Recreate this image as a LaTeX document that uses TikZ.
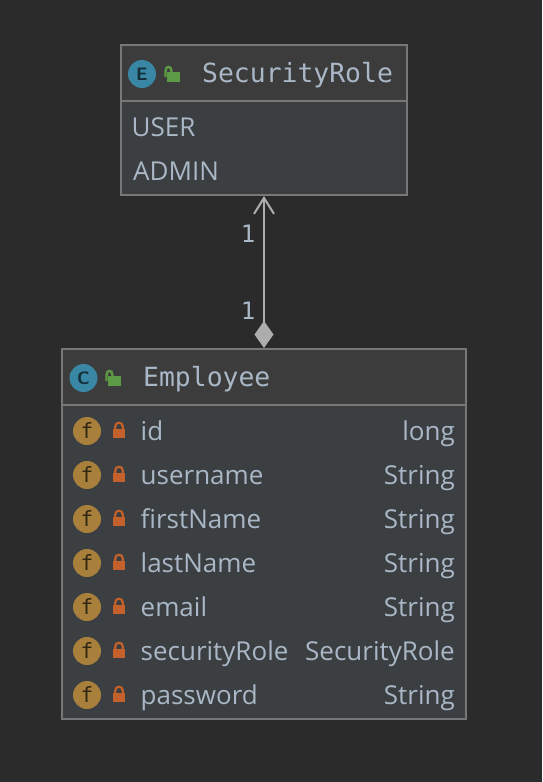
\documentclass[tikz,border=0pt]{standalone}
\usepackage{fontspec}
\setmainfont{Open Sans}
\newfontfamily\titlefont{DejaVu Sans Mono}
\usetikzlibrary{arrows.meta}
\definecolor{canvascol}{HTML}{2B2B2B}
\definecolor{headcol}{HTML}{3C3C3C}
\definecolor{bodycol}{HTML}{3C3F41}
\definecolor{edgecol}{HTML}{777777}
\definecolor{textcol}{HTML}{A9B7C6}
\definecolor{linkcol}{HTML}{ADADAD}
\definecolor{bluecol}{HTML}{3A87A5}
\definecolor{fieldcol}{HTML}{A8803C}
\definecolor{shutcol}{HTML}{C4602B}
\definecolor{opencol}{HTML}{5C9A46}
\tikzset{
    box/.style={draw=edgecol, line width=2pt, fill=bodycol, inner sep=0pt},
    head/.style={box, fill=headcol, minimum height=56pt},
    title/.style={text=textcol, anchor=base west, inner sep=0pt, font=\titlefont\fontsize{26.4}{30}\selectfont},
    item/.style={text=textcol, anchor=base west, inner sep=0pt, font=\fontsize{26}{30}\selectfont},
    kind/.style={item, anchor=base east},
    one/.style={text=textcol, inner sep=0pt, font=\titlefont\fontsize{24}{28}\selectfont},
    typeicon/.style={circle, fill=bluecol, minimum size=28pt, inner sep=0pt, text=bluecol!35!black, font=\sffamily\bfseries\fontsize{18}{20}\selectfont},
    fieldicon/.style={circle, fill=fieldcol, minimum size=28pt, inner sep=0pt, text=fieldcol!30!black, font=\titlefont\fontsize{21}{24}\selectfont},
    link/.style={draw=linkcol, line width=2pt, {Diamond[length=27pt,width=19pt,fill=linkcol]}-{Straight Barb[length=16pt,width=20pt]}},
    openlock/.pic={
        \fill[opencol] (0,0) rectangle (13,-10);
        \draw[opencol, line width=2.4pt] (-1.5,-5) -- (-1.5,-11) .. controls (-1.5,-16.5) and (4.5,-16.5) .. (4.5,-11) -- (4.5,-9);
    },
    shutlock/.pic={
        \fill[shutcol] (0,0) rectangle (12,-9);
        \draw[shutcol, line width=2.2pt] (2.2,-8) -- (2.2,-11.5) .. controls (2.2,-16.5) and (9.8,-16.5) .. (9.8,-11.5) -- (9.8,-8);
    }
}
\begin{document}
\begin{tikzpicture}[x=1pt,y=-1pt]
    \useasboundingbox[fill=canvascol] (0,0) rectangle (542,782);

    %enum box
    \node[box, minimum width=286pt, minimum height=150pt] (role) at (264,120) {};
    \node[head, minimum width=286pt] (rolehead) at (264,73) {};
    \node[typeicon] (roleicon) at (142,74) {E};
    \pic at (167,82) {openlock};
    \node[title] (roletitle) at (202,82.5) {SecurityRole};
    \node[item] (user) at (131.5,136.5) {USER};
    \node[item] (admin) at (133,180.5) {ADMIN};

    %class box
    \node[box, minimum width=404pt, minimum height=370pt] (emp) at (264,534) {};
    \node[head, minimum width=404pt] (emphead) at (264,377) {};
    \node[typeicon] (empicon) at (83.5,378) {C};
    \pic at (108,386) {openlock};
    \node[title] (emptitle) at (143,386.5) {Employee};

    %fields
    \node[fieldicon] (idicon) at (87,431) {f};
    \pic at (113,438) {shutlock};
    \node[item] (idname) at (140.5,440) {id};
    \node[kind] (idtype) at (455,440) {long};

    \node[fieldicon] (usericon) at (87,475) {f};
    \pic at (113,482) {shutlock};
    \node[item] (username) at (140.5,484) {username};
    \node[kind] (usertype) at (455,484) {String};

    \node[fieldicon] (firsticon) at (87,519) {f};
    \pic at (113,526) {shutlock};
    \node[item] (firstname) at (140.5,528) {firstName};
    \node[kind] (firsttype) at (455,528) {String};

    \node[fieldicon] (lasticon) at (87,563) {f};
    \pic at (113,570) {shutlock};
    \node[item] (lastname) at (140.5,572) {lastName};
    \node[kind] (lasttype) at (455,572) {String};

    \node[fieldicon] (mailicon) at (87,607) {f};
    \pic at (113,614) {shutlock};
    \node[item] (mailname) at (140.5,616) {email};
    \node[kind] (mailtype) at (455,616) {String};

    \node[fieldicon] (secicon) at (87,651) {f};
    \pic at (113,658) {shutlock};
    \node[item] (secname) at (140.5,660) {securityRole};
    \node[kind] (sectype) at (455,660) {SecurityRole};

    \node[fieldicon] (passicon) at (87,695) {f};
    \pic at (113,702) {shutlock};
    \node[item] (passname) at (140.5,704) {password};
    \node[kind] (passtype) at (455,704) {String};

    %association
    \draw[link] (emp.north) -- (role.south);
    \node[one] (toprole) at (248,234) {1};
    \node[one] (topemp) at (248,311) {1};
\end{tikzpicture}
\end{document}
